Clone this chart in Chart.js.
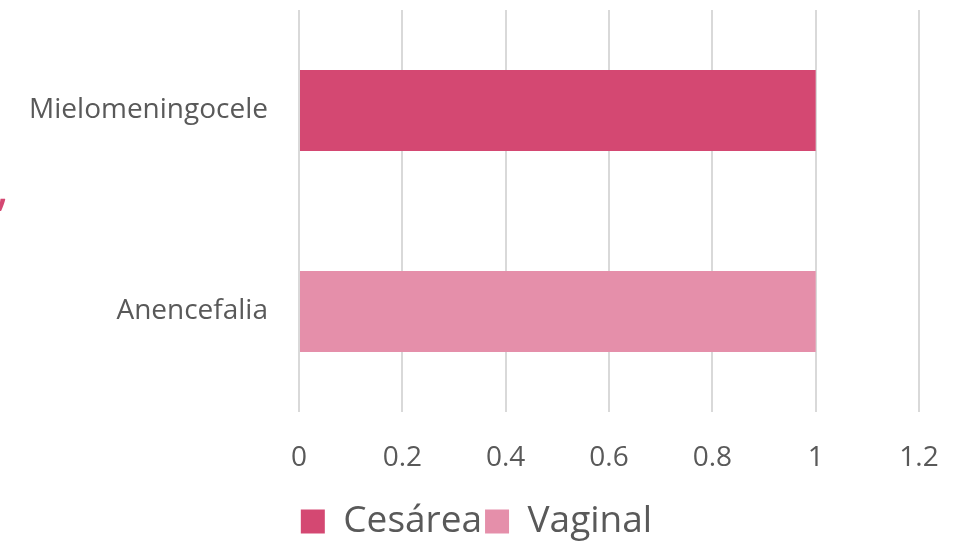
<!DOCTYPE html>
<html>
<head>
<meta charset="utf-8">
<script src="https://cdn.jsdelivr.net/npm/chart.js@4"></script>
<style>
  body { margin: 0; background: #fff; }
  #wrap { position: relative; width: 953px; height: 543px; }
  #stray { position: absolute; left: -4px; top: 152px; color: #d44872; font: 50px "Open Sans", sans-serif; }
</style>
</head>
<body>
<div id="wrap">
  <canvas id="partoBar" width="953" height="543"></canvas>
  <span id="stray">,</span>
</div>
<script>
// ===================== tipo de parto por malformación =====================
var categorias = ["Mielomeningocele", "Anencefalia"];
var cesarea = [1, null];
var vaginal = [null, 1];
var xTicks = ["0", "0.2", "0.4", "0.6", "0.8", "1", "1.2"];

// baja un poco la leyenda
var legendShift = {
  id: "legendShift",
  afterLayout: function (chart) {
    chart.legend.top += 7;
    chart.legend.bottom += 7;
  }
};

var ctx = document.getElementById("partoBar").getContext("2d");
var partoBar = new Chart(ctx, {
  type: "bar",
  data: {
    labels: categorias,
    datasets: [
      {
        label: "Cesárea",
        data: cesarea,
        backgroundColor: "#d44872"
      },
      {
        label: "Vaginal",
        data: vaginal,
        backgroundColor: "#e58faa"
      }
    ]
  },
  options: {
    responsive: false,
    animation: false,
    indexAxis: "y",
    datasets: { bar: { categoryPercentage: 1, barPercentage: 0.403 } },
    layout: { padding: { top: 10, right: 0, left: 0, bottom: 0 } },
    scales: {
      x: {
        min: 0,
        max: 1.2,
        ticks: {
          stepSize: 0.2,
          padding: 29,
          color: "#595959",
          font: { family: "Open Sans", size: 28 },
          callback: function (v, i) { return xTicks[i]; }
        },
        grid: { color: "#d9d9d9", lineWidth: 2, drawTicks: false },
        border: { display: false },
        afterFit: function (scale) {
          scale.height = 81;
          scale.paddingLeft = 0;
          scale.paddingRight = 34;
        }
      },
      y: {
        stacked: true,
        ticks: {
          padding: 31,
          color: "#595959",
          font: { family: "Open Sans", size: 28 }
        },
        grid: { display: false, drawTicks: false },
        border: { display: false },
        afterFit: function (scale) {
          scale.width = 299;
          scale.paddingTop = 0;
          scale.paddingBottom = 0;
        }
      }
    },
    plugins: {
      tooltip: { enabled: false },
      legend: {
        position: "bottom",
        labels: {
          boxWidth: 24,
          boxHeight: 24,
          padding: 3,
          color: "#595959",
          font: { family: "Open Sans", size: 37, lineHeight: 1 }
        }
      }
    }
  },
  plugins: [legendShift]
});
</script>
</body>
</html>
